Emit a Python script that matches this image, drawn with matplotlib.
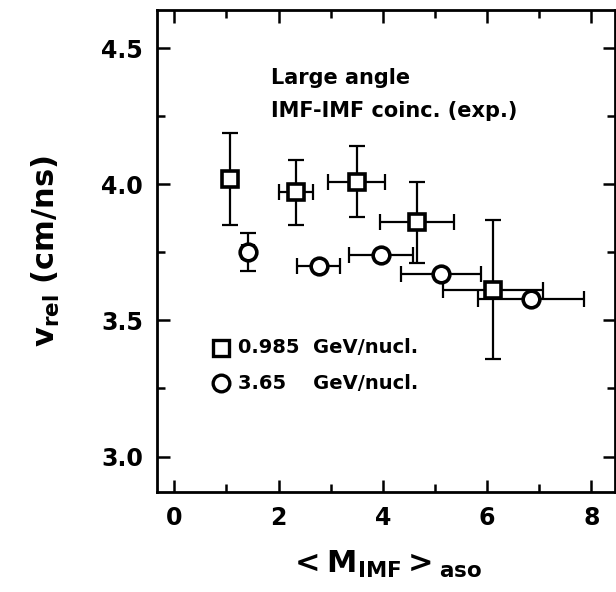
import matplotlib
matplotlib.use("Agg")
import matplotlib.pyplot as plt
from matplotlib.ticker import MultipleLocator

# 0.985 GeV/nucl (squares)
sq_x = [1.07, 2.34, 3.50, 4.65, 6.11]
sq_y = [4.02, 3.97, 4.01, 3.86, 3.61]
sq_xerr = [0.0, 0.33, 0.55, 0.71, 0.96]
sq_yerr_lo = [0.17, 0.12, 0.13, 0.15, 0.25]
sq_yerr_hi = [0.17, 0.12, 0.13, 0.15, 0.26]

# 3.65 GeV/nucl (circles)
ci_x = [1.41, 2.77, 3.96, 5.12, 6.84]
ci_y = [3.75, 3.70, 3.74, 3.67, 3.58]
ci_xerr = [0.12, 0.41, 0.61, 0.77, 1.02]
ci_yerr = [0.07, 0.0, 0.0, 0.0, 0.0]

fig = plt.figure(figsize=(6.16, 5.92), dpi=100)
ax = fig.add_axes([0.255, 0.169, 0.743, 0.814])

ekw = dict(fmt='none', ecolor='black', elinewidth=1.6, capsize=6, capthick=1.6)
ax.errorbar(sq_x, sq_y, xerr=sq_xerr, yerr=[sq_yerr_lo, sq_yerr_hi], **ekw)
ax.errorbar(ci_x, ci_y, xerr=ci_xerr, yerr=ci_yerr, **ekw)
ax.plot(sq_x, sq_y, 's', ms=11, mfc='white', mec='black', mew=2.6, zorder=3)
ax.plot(ci_x, ci_y, 'o', ms=12, mfc='white', mec='black', mew=2.6, zorder=3)

# legend drawn as in the original figure
ax.plot([0.9], [3.40], 's', ms=11, mfc='white', mec='black', mew=2.4)
ax.plot([0.9], [3.27], 'o', ms=12, mfc='white', mec='black', mew=2.4)
ax.text(1.22, 3.40, '0.985  GeV/nucl.', fontsize=14, va='center', weight='bold')
ax.text(1.22, 3.27, '3.65    GeV/nucl.', fontsize=14, va='center', weight='bold')

ax.text(1.85, 4.39, 'Large angle', fontsize=15, va='center', weight='bold')
ax.text(1.85, 4.27, 'IMF-IMF coinc. (exp.)', fontsize=15, va='center', weight='bold')

ax.set_xlim(-0.33, 8.45)
ax.set_ylim(2.87, 4.64)
ax.xaxis.set_major_locator(MultipleLocator(2))
ax.xaxis.set_minor_locator(MultipleLocator(1))
ax.yaxis.set_major_locator(MultipleLocator(0.5))
ax.yaxis.set_minor_locator(MultipleLocator(0.25))
ax.tick_params(which='both', direction='in', top=True, right=True, width=1.8)
ax.tick_params(which='major', length=9, labelsize=17, pad=10)
ax.tick_params(which='minor', length=6)
for lab in ax.get_xticklabels() + ax.get_yticklabels():
    lab.set_fontweight('bold')
for sp in ax.spines.values():
    sp.set_linewidth(2)

ax.set_xlabel(r'$\mathbf{<M_{IMF}>_{aso}}$', fontsize=22, labelpad=14)
ax.set_ylabel(r'$\mathbf{v_{rel}}$ (cm/ns)', fontsize=22, weight='bold', labelpad=28)

fig.savefig('out.png', dpi=100)
